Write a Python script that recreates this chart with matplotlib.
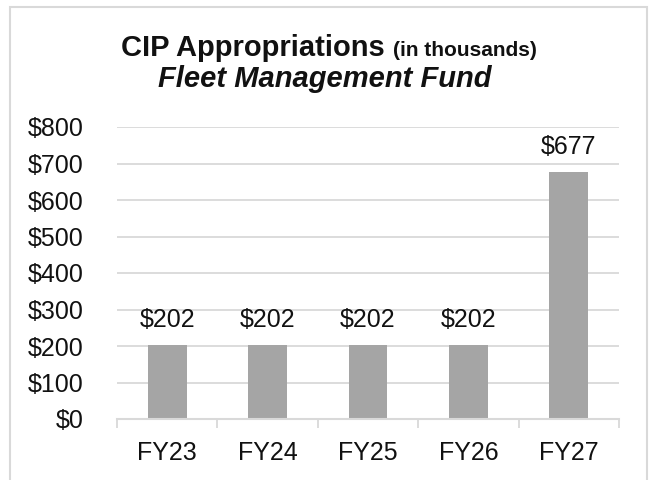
import matplotlib
matplotlib.use("Agg")
import matplotlib.pyplot as plt
from matplotlib.patches import Rectangle
from matplotlib.ticker import FixedLocator

categories = ["FY23", "FY24", "FY25", "FY26", "FY27"]
values = [202, 202, 202, 202, 677]
y_ticks = [0, 100, 200, 300, 400, 500, 600, 700, 800]
y_tick_labels = ["$0", "$100", "$200", "$300", "$400", "$500", "$600", "$700", "$800"]

plt.rcParams["font.family"] = ["Liberation Sans", "DejaVu Sans"]

W, H, DPI = 650, 480, 100
fig = plt.figure(figsize=(W / DPI, H / DPI), dpi=DPI)
fig.patch.set_facecolor("white")

# outer chart frame
fig.add_artist(Rectangle((10 / W, -0.1), 637 / W, 1.1 - 7 / H,
                         transform=fig.transFigure, fill=False,
                         edgecolor="#D9D9D9", linewidth=1.5))

ax = fig.add_axes([117 / W, 1 - 419 / H, 502 / W, 292 / H])
x = list(range(len(categories)))
ax.bar(x, values, width=0.385, color="#A5A5A5", zorder=3)

ax.set_xlim(-0.5, len(categories) - 0.5)
ax.set_ylim(0, 800)
ax.set_yticks(y_ticks)
ax.set_yticklabels(y_tick_labels)
ax.set_xticks(x)
ax.set_xticklabels(categories)
ax.xaxis.set_minor_locator(FixedLocator([i - 0.5 for i in range(len(categories) + 1)]))

ax.grid(axis="y", color="#D9D9D9", linewidth=1.3, zorder=0)
for s in ["top", "right", "left"]:
    ax.spines[s].set_visible(False)
ax.spines["bottom"].set_color("#D9D9D9")
ax.spines["bottom"].set_linewidth(1.5)
ax.spines["bottom"].set_zorder(4)

ax.tick_params(axis="y", length=0, pad=24, labelsize=18, labelcolor="#111111")
ax.tick_params(axis="x", which="major", length=0, pad=16, labelsize=18, labelcolor="#111111")
ax.tick_params(axis="x", which="minor", length=6.5, width=1.3, color="#D9D9D9", direction="out")

for xi, v in zip(x, values):
    ax.annotate(f"${v}", (xi, v), xytext=(0, 13), textcoords="offset points",
                ha="center", va="baseline", fontsize=18, color="#111111")

# title, first line with a smaller suffix
t1 = fig.text(0, 1 - 56 / H, "CIP Appropriations ", fontsize=21, fontweight="bold",
              va="baseline", ha="left", color="#111111")
t2 = fig.text(0, 1 - 56 / H, "(in thousands)", fontsize=15, fontweight="bold",
              va="baseline", ha="left", color="#111111")
r = fig.canvas.get_renderer()
w1 = t1.get_window_extent(r).width
w2 = t2.get_window_extent(r).width
start = 329 - (w1 + w2) / 2
t1.set_x(start / W)
t2.set_x((start + w1) / W)

fig.text(325 / W, 1 - 87 / H, "Fleet Management Fund", fontsize=21, fontweight="bold",
         fontstyle="italic", va="baseline", ha="center", color="#111111")

fig.savefig("out.png", dpi=DPI, facecolor="white")
